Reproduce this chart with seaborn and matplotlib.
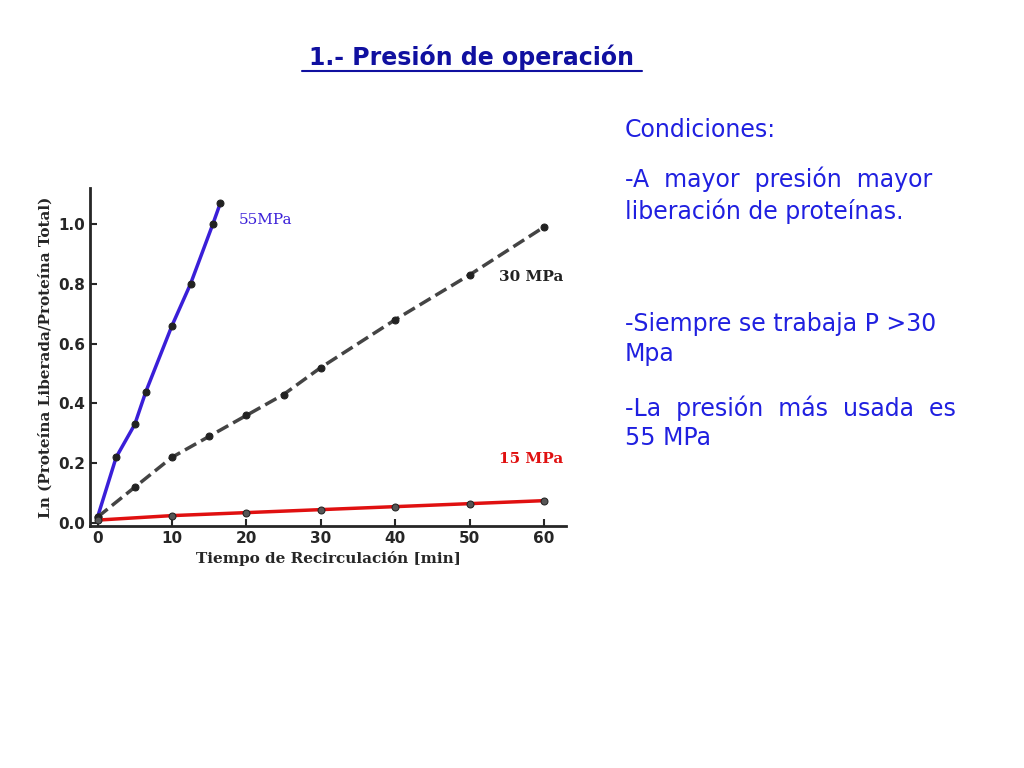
import matplotlib
matplotlib.use("Agg")
import matplotlib.pyplot as plt
import seaborn as sns
import pandas as pd

# data
t_55 = [0, 2.5, 5, 6.5, 10, 12.5, 15.5, 16.5]
y_55 = [0.02, 0.22, 0.33, 0.44, 0.66, 0.80, 1.00, 1.07]
t_30 = [0, 5, 10, 15, 20, 25, 30, 40, 50, 60]
y_30 = [0.02, 0.12, 0.22, 0.29, 0.36, 0.43, 0.52, 0.68, 0.83, 0.99]
t_15 = [0, 10, 20, 30, 40, 50, 60]
y_15 = [0.01, 0.025, 0.035, 0.045, 0.055, 0.065, 0.075]
x_ticks = [0, 10, 20, 30, 40, 50, 60]
y_ticks = [0.0, 0.2, 0.4, 0.6, 0.8, 1.0]

sns.set_theme(style="ticks")
fig = plt.figure(figsize=(10.24, 7.68), dpi=100)
ax = fig.add_axes([0.088, 0.315, 0.465, 0.44])

df55 = pd.DataFrame({"t": t_55, "y": y_55})
df30 = pd.DataFrame({"t": t_30, "y": y_30})
df15 = pd.DataFrame({"t": t_15, "y": y_15})
sns.lineplot(data=df55, x="t", y="y", ax=ax, color="#3a1fd8", lw=2.5, marker="o",
             markersize=5, markerfacecolor="#222222", markeredgecolor="#222222")
sns.lineplot(data=df30, x="t", y="y", ax=ax, color="#444444", lw=2.5, ls="--", marker="o",
             markersize=5, markerfacecolor="#222222", markeredgecolor="#222222")
sns.lineplot(data=df15, x="t", y="y", ax=ax, color="#e01010", lw=2.5, marker="o",
             markersize=5, markerfacecolor="#555555", markeredgecolor="#222222")

ax.set_xlim(-1, 63)
ax.set_ylim(-0.01, 1.12)
ax.set_xticks(x_ticks)
ax.set_yticks(y_ticks)
ax.set_yticklabels([f"{v:.1f}" for v in y_ticks])
for lab in ax.get_xticklabels() + ax.get_yticklabels():
    lab.set_fontweight("bold")
    lab.set_fontsize(11)
sns.despine(ax=ax)
ax.spines["left"].set_linewidth(2)
ax.spines["bottom"].set_linewidth(2)
ax.tick_params(direction="in", width=1.5, length=5)
ax.set_xlabel("Tiempo de Recirculación [min]", family="serif", fontweight="bold", fontsize=11)
ax.set_ylabel("Ln (Proteína Liberada/Proteína Total)", family="serif", fontweight="bold", fontsize=11)

ax.text(19, 1.0, "55MPa", color="#3a1fd8", family="serif", fontsize=11)
ax.text(54, 0.81, "30 MPa", color="#222222", family="serif", fontweight="bold", fontsize=11)
ax.text(54, 0.20, "15 MPa", color="#e01010", family="serif", fontweight="bold", fontsize=11)

blue = "#2020e0"
fig.text(0.46, 0.915, "1.- Presión de operación", color="#1010a0", fontsize=17,
         fontweight="bold", ha="center")
fig.add_artist(plt.Line2D([0.295, 0.627], [0.907, 0.907], color="#1010a0", lw=1.5))
fs = 17
fig.text(0.61, 0.822, "Condiciones:", color=blue, fontsize=fs)
fig.text(0.61, 0.715, "-A  mayor  presión  mayor\nliberación de proteínas.", color=blue, fontsize=fs, linespacing=1.3)
fig.text(0.61, 0.53, "-Siempre se trabaja P >30\nMpa", color=blue, fontsize=fs, linespacing=1.3)
fig.text(0.61, 0.42, "-La  presión  más  usada  es\n55 MPa", color=blue, fontsize=fs, linespacing=1.3)

fig.savefig("out.png", dpi=100, facecolor="white")
